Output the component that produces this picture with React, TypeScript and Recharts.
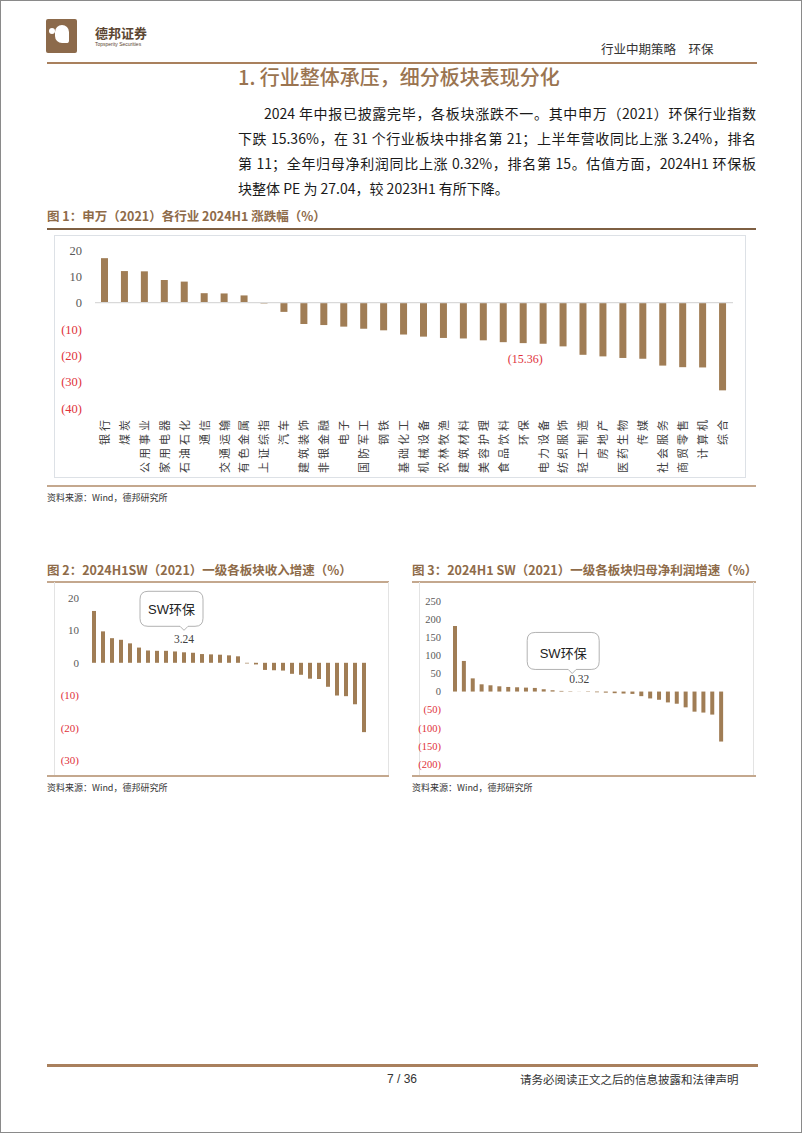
import React from 'react';
import { Bar, BarChart, LabelList, ReferenceLine, XAxis, YAxis } from 'recharts';

// 图1：申万（2021）各行业 2024H1 涨跌幅
const industries = [
  '银行', '煤炭', '公用事业', '家用电器', '石油石化', '通信', '交通运输', '有色金属',
  '上证综指', '汽车', '建筑装饰', '非银金融', '电子', '国防军工', '钢铁', '基础化工',
  '机械设备', '农林牧渔', '建筑材料', '美容护理', '食品饮料', '环保', '电力设备', '纺织服饰',
  '轻工制造', '房地产', '医药生物', '传媒', '社会服务', '商贸零售', '计算机', '综合',
];
const priceChange = [
  16.9, 12.0, 11.9, 8.6, 8.0, 3.6, 3.5, 2.75,
  -0.3, -3.5, -8.1, -8.5, -9.1, -9.9, -10.5, -12.1,
  -12.9, -13.4, -13.6, -14.3, -15.0, -15.36, -15.6, -16.6,
  -19.8, -20.4, -21.0, -21.3, -23.9, -24.5, -24.6, -33.3,
];
const priceTicks = [-40, -30, -20, -10, 0, 10, 20];

// 图2：一级各板块收入增速（按大小排序）
const revenueGrowth = [
  16.0, 9.7, 7.6, 7.1, 6.0, 4.7, 3.8, 3.7, 3.7, 3.5, 3.24, 3.1, 2.7, 2.6, 2.5, 2.3,
  2.0, -0.2, -0.5, -2.2, -2.3, -2.4, -3.4, -3.7, -4.9, -5.0, -7.4, -10.1, -10.3, -12.8, -21.4,
];
const revenueEnvIndex = 10;
const revenueTicks = [-30, -20, -10, 0, 10, 20];

// 图3：一级各板块归母净利润增速（按大小排序）
const profitGrowth = [
  181, 84.5, 36.4, 20, 17.3, 14.5, 12.7, 11.8, 10.9, 10.0, 6.4, 3.6, 1.8, 1.0, 0.32, -1.0,
  -2.0, -3.0, -4.5, -5.5, -6.5, -12.7, -19, -22.7, -30, -33.6, -43.6, -55.5, -58, -63.6, -138,
];
const profitEnvIndex = 14;
const profitTicks = [-200, -150, -100, -50, 0, 50, 100, 150, 200, 250];

const BAR = '#A07D55';
const BROWN = '#8E6B49';
const TAN = '#C4A88E';
const RED = '#E0313A';
const SERIF = "'Liberation Serif', 'Times New Roman', serif";
const SANS = "'Liberation Sans', 'Noto Sans CJK SC', sans-serif";
const CJK = "'Noto Sans CJK SC', sans-serif";

const priceData = industries.map((name, i) => ({ name, value: priceChange[i] }));
const revenueData = revenueGrowth.map((value, i) => ({ rank: i + 1, value }));
const profitData = profitGrowth.map((value, i) => ({ rank: i + 1, value }));

const fmtNum = (v: number) => (v < 0 ? `(${Math.abs(v)})` : `${v}`);

function YTick(props: any) {
  const { x, y, payload, fs } = props;
  const v = payload.value;
  return (
    <text x={x} y={y} dy="0.36em" textAnchor="end" fontSize={fs} fontFamily={SERIF} fill={v < 0 ? RED : '#595959'}>
      {fmtNum(v)}
    </text>
  );
}

function IndustryTick(props: any) {
  const { x, y, payload } = props;
  return (
    <text
      x={x}
      y={y}
      dy="0.36em"
      textAnchor="end"
      transform={`rotate(-90, ${x}, ${y})`}
      fontSize={11}
      letterSpacing={3}
      fontFamily={CJK}
      fill="#404040"
    >
      {payload.value}
    </text>
  );
}

function barBox(p: any) {
  const vb = p.viewBox ?? p;
  const x = p.x ?? vb.x;
  const y = p.y ?? vb.y;
  const w = p.width ?? vb.width;
  const h = p.height ?? vb.height;
  return { cx: x + w / 2, top: Math.min(y, y + h), bottom: Math.max(y, y + h) };
}

function bubblePath(l: number, t: number, w: number, h: number, r: number, tipX: number, tipY: number) {
  const b = t + h;
  return `M${l + r},${t} H${l + w - r} Q${l + w},${t} ${l + w},${t + r} V${b - r} Q${l + w},${b} ${l + w - r},${b}` +
    ` H${tipX + 4} L${tipX},${tipY} L${tipX - 4},${b} H${l + r} Q${l},${b} ${l},${b - r} V${t + r} Q${l},${t} ${l + r},${t} Z`;
}

function EnvPriceLabel(p: any) {
  if (industries[p.index] !== '环保') return null;
  const { cx, bottom } = barBox(p);
  return (
    <text x={cx + 2} y={bottom + 16} dy="0.36em" textAnchor="middle" fontSize={12} fontFamily={SERIF} fill={RED}>
      {fmtNum(priceChange[p.index])}
    </text>
  );
}

function EnvRevenueLabel(p: any) {
  if (p.index !== revenueEnvIndex) return null;
  const { cx, top } = barBox(p);
  return (
    <g>
      <path d={bubblePath(cx - 44, top - 61, 63, 35, 8, cx, top - 22)} fill="#fff" stroke="#9E9E9E" strokeWidth={0.8} />
      <text x={cx - 12.5} y={top - 43} dy="0.36em" textAnchor="middle" fontSize={13} fontFamily={SANS} fill="#222">
        SW环保
      </text>
      <text x={cx} y={top - 13.5} dy="0.36em" textAnchor="middle" fontSize={11.5} fontFamily={SERIF} fill="#404040">
        {revenueGrowth[p.index].toFixed(2)}
      </text>
    </g>
  );
}

function EnvProfitLabel(p: any) {
  if (p.index !== profitEnvIndex) return null;
  const { cx, top } = barBox(p);
  return (
    <g>
      <path d={bubblePath(cx - 52, top - 59, 72, 37, 8, cx - 7, top - 18)} fill="#fff" stroke="#9E9E9E" strokeWidth={0.8} />
      <text x={cx - 16} y={top - 38.5} dy="0.36em" textAnchor="middle" fontSize={13} fontFamily={SANS} fill="#222">
        SW环保
      </text>
      <text x={cx} y={top - 13} dy="0.36em" textAnchor="middle" fontSize={11.5} fontFamily={SERIF} fill="#404040">
        {profitGrowth[p.index].toFixed(2)}
      </text>
    </g>
  );
}

const abs = (left: number, top: number, extra: React.CSSProperties = {}): React.CSSProperties => ({
  position: 'absolute',
  left,
  top,
  ...extra,
});

const hLine = (left: number, top: number, width: number, color: string, h = 2) => (
  <div style={abs(left, top, { width, height: h, background: color })} />
);

const figTitle: React.CSSProperties = {
  fontFamily: CJK,
  fontSize: 12.5,
  fontWeight: 700,
  color: BROWN,
  whiteSpace: 'nowrap',
  lineHeight: '16px',
};

const sourceText: React.CSSProperties = {
  fontFamily: CJK,
  fontSize: 9,
  color: '#333',
  whiteSpace: 'nowrap',
  lineHeight: '12px',
};

const paraLine: React.CSSProperties = {
  position: 'absolute',
  left: 237,
  width: 518,
  fontFamily: CJK,
  fontSize: 14,
  lineHeight: '20px',
  color: '#1a1a1a',
  textAlign: 'justify',
  textAlignLast: 'justify',
};

export default function App() {
  return (
    <div
      style={{
        position: 'absolute',
        left: 0,
        top: 0,
        width: 802,
        height: 1133,
        background: '#fff',
        overflow: 'hidden',
        boxSizing: 'border-box',
        border: '1px solid #8a8a8a',
      }}
    >
      {/* header */}
      <div style={abs(45, 18, { width: 31, height: 34, background: '#8C6A4B', borderRadius: 2 })}>
        <div style={abs(9, 6, { width: 14, height: 18, background: '#fff', borderRadius: '8px 8px 3px 8px' })} />
        <div style={abs(3, 9, { width: 6, height: 6, background: '#fff', borderRadius: 3 })} />
      </div>
      <div style={abs(94, 24, { fontFamily: CJK, fontSize: 13, fontWeight: 700, color: '#5B4632', lineHeight: '16px', whiteSpace: 'nowrap' })}>
        德邦证券
      </div>
      <div style={abs(94, 40, { fontFamily: SANS, fontSize: 5, color: '#5B4632', whiteSpace: 'nowrap' })}>
        Topsperity Securities
      </div>
      <div style={abs(600, 40, { fontFamily: CJK, fontSize: 12.5, color: '#333', lineHeight: '16px', whiteSpace: 'nowrap' })}>
        行业中期策略　环保
      </div>
      {hLine(46, 61, 710, '#A9805D', 2)}

      <div style={abs(237, 63, { fontFamily: CJK, fontSize: 20, fontWeight: 500, color: '#9A7450', lineHeight: '26px', whiteSpace: 'nowrap' })}>
        1. 行业整体承压，细分板块表现分化
      </div>

      <div style={{ ...paraLine, top: 102, textIndent: 26 }}>
        2024 年中报已披露完毕，各板块涨跌不一。其中申万（2021）环保行业指数
      </div>
      <div style={{ ...paraLine, top: 127 }}>
        下跌 15.36%，在 31 个行业板块中排名第 21；上半年营收同比上涨 3.24%，排名
      </div>
      <div style={{ ...paraLine, top: 152 }}>
        第 11；全年归母净利润同比上涨 0.32%，排名第 15。估值方面，2024H1 环保板
      </div>
      <div style={{ ...paraLine, top: 177, textAlignLast: 'left' }}>
        块整体 PE 为 27.04，较 2023H1 有所下降。
      </div>

      {/* figure 1 */}
      <div style={abs(46, 207, figTitle)}>图 1：申万（2021）各行业 2024H1 涨跌幅（%）</div>
      {hLine(46, 227, 709, '#7E5F42', 2)}
      <div style={abs(53, 234, { width: 692, height: 243, border: '1.5px solid #DDE1E6', boxSizing: 'border-box' })} />
      <div style={abs(53, 234)}>
        <BarChart width={692} height={243} data={priceData} margin={{ top: 15, right: 13, bottom: 0, left: 0 }}>
          <YAxis
            width={41}
            domain={[-40, 20]}
            ticks={priceTicks}
            interval={0}
            axisLine={false}
            tickLine={false}
            tickSize={0}
            tickMargin={13}
            tick={(p: any) => <YTick {...p} fs={12.5} />}
          />
          <XAxis
            dataKey="name"
            height={70}
            interval={0}
            axisLine={false}
            tickLine={false}
            tickSize={0}
            tickMargin={9}
            tick={(p: any) => <IndustryTick {...p} />}
          />
          <ReferenceLine y={0} stroke="#D9D9D9" strokeWidth={1.2} />
          <Bar dataKey="value" fill={BAR} barSize={7} isAnimationActive={false}>
            <LabelList dataKey="value" content={EnvPriceLabel} />
          </Bar>
        </BarChart>
      </div>
      {hLine(46, 484, 709, TAN, 2)}
      <div style={abs(46, 491, sourceText)}>资料来源：Wind，德邦研究所</div>

      {/* figure 2 */}
      <div style={abs(46, 561, figTitle)}>图 2：2024H1SW（2021）一级各板块收入增速（%）</div>
      {hLine(46, 580, 342, TAN, 1.5)}
      <div style={abs(53, 581, { width: 335, height: 194, borderLeft: '1px solid #E3E3E3', borderRight: '1px solid #E3E3E3', boxSizing: 'border-box' })} />
      <div style={abs(53, 581)}>
        <BarChart width={335} height={194} data={revenueData} margin={{ top: 16, right: 21, bottom: 16, left: 0 }}>
          <YAxis
            width={35}
            domain={[-30, 20]}
            ticks={revenueTicks}
            interval={0}
            axisLine={false}
            tickLine={false}
            tickSize={0}
            tickMargin={10}
            tick={(p: any) => <YTick {...p} fs={11} />}
          />
          <XAxis dataKey="rank" hide />
          <Bar dataKey="value" fill={BAR} barSize={4} isAnimationActive={false}>
            <LabelList dataKey="value" content={EnvRevenueLabel} />
          </Bar>
        </BarChart>
      </div>
      {hLine(46, 774, 342, TAN, 2)}
      <div style={abs(46, 781, sourceText)}>资料来源：Wind，德邦研究所</div>

      {/* figure 3 */}
      <div style={abs(411, 561, figTitle)}>图 3：2024H1 SW（2021）一级各板块归母净利润增速（%）</div>
      {hLine(411, 580, 344, TAN, 1.5)}
      <div style={abs(418, 581, { width: 335, height: 194, borderLeft: '1px solid #E3E3E3', borderRight: '1px solid #E3E3E3', boxSizing: 'border-box' })} />
      <div style={abs(410, 581)}>
        <BarChart width={343} height={194} data={profitData} margin={{ top: 19, right: 28, bottom: 12, left: 0 }}>
          <YAxis
            width={40}
            domain={[-200, 250]}
            ticks={profitTicks}
            interval={0}
            axisLine={false}
            tickLine={false}
            tickSize={0}
            tickMargin={10}
            tick={(p: any) => <YTick {...p} fs={10.5} />}
          />
          <XAxis dataKey="rank" hide />
          <Bar dataKey="value" fill={BAR} barSize={4} isAnimationActive={false}>
            <LabelList dataKey="value" content={EnvProfitLabel} />
          </Bar>
        </BarChart>
      </div>
      {hLine(411, 774, 344, TAN, 2)}
      <div style={abs(411, 781, sourceText)}>资料来源：Wind，德邦研究所</div>

      {/* footer */}
      {hLine(46, 1063, 711, '#A9805D', 2.5)}
      <div style={abs(386, 1071, { fontFamily: SANS, fontSize: 12, color: '#333', lineHeight: '14px', whiteSpace: 'nowrap' })}>
        7 / 36
      </div>
      <div style={abs(519, 1071, { fontFamily: CJK, fontSize: 11.5, color: '#333', lineHeight: '14px', whiteSpace: 'nowrap' })}>
        请务必阅读正文之后的信息披露和法律声明
      </div>
    </div>
  );
}
